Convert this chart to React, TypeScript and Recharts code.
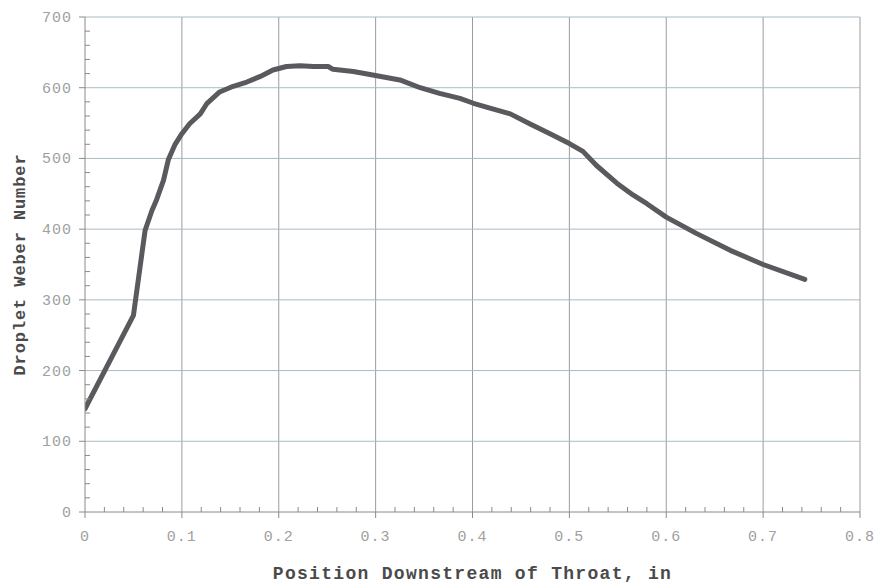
import React from 'react';
import { LineChart, Line, XAxis, YAxis, ReferenceLine } from 'recharts';

const positions = [0, 0.05, 0.062, 0.069, 0.074, 0.081, 0.086, 0.093, 0.1, 0.108, 0.119, 0.126, 0.139, 0.153, 0.167, 0.181, 0.194, 0.208, 0.222, 0.236, 0.251, 0.256, 0.277, 0.297, 0.325, 0.346, 0.366, 0.387, 0.401, 0.418, 0.439, 0.459, 0.48, 0.5, 0.514, 0.528, 0.549, 0.566, 0.58, 0.6, 0.631, 0.666, 0.7, 0.743];
const weber = [146, 278, 398, 426, 442, 469, 498, 520, 535, 549, 563, 578, 594, 602, 608, 616, 625, 630, 631, 630, 630, 626, 623, 618, 611, 600, 592, 585, 578, 571, 563, 549, 535, 521, 510, 490, 465, 448, 436, 417, 394, 370, 350, 329];

const xMajor = [0, 0.1, 0.2, 0.3, 0.4, 0.5, 0.6, 0.7, 0.8];
const xAllTicks = Array.from({ length: 41 }, (_, i) => Math.round(i * 2) / 100);
const yMajor = [0, 100, 200, 300, 400, 500, 600, 700];
const yAllTicks = Array.from({ length: 36 }, (_, i) => i * 20);

const data = positions.map((p, i) => ({ x: p, y: weber[i] }));

const MONO = '"Liberation Mono", "DejaVu Sans Mono", monospace';
const AXIS = '#8a8a8a';
const LABEL = '#a0a0a0';

const isMajor = (v: number, step: number) => Math.abs(v / step - Math.round(v / step)) < 1e-6;

const XTick = (props: any) => {
  const { x, y, payload } = props;
  const v = payload.value;
  if (isMajor(v, 0.1)) {
    return (
      <g>
        <line x1={x} x2={x} y1={y} y2={y + 6} stroke={AXIS} strokeWidth={1} />
        <text x={x} y={y + 29} textAnchor="middle" fontFamily={MONO} fontSize={15} fill={LABEL} letterSpacing={1}>
          {v === 0 ? '0' : String(v)}
        </text>
      </g>
    );
  }
  return <line x1={x} x2={x} y1={y} y2={y - 5} stroke={AXIS} strokeWidth={1} />;
};

const YTick = (props: any) => {
  const { x, y, payload } = props;
  const v = payload.value;
  if (isMajor(v, 100)) {
    return (
      <g>
        <line x1={x} x2={x - 6} y1={y} y2={y} stroke={AXIS} strokeWidth={1} />
        <text x={x - 13} y={y + 5} textAnchor="end" fontFamily={MONO} fontSize={15} fill={LABEL} letterSpacing={1}>
          {String(v)}
        </text>
      </g>
    );
  }
  return <line x1={x} x2={x + 5} y1={y} y2={y} stroke={AXIS} strokeWidth={1} />;
};

export default function App() {
  return (
    <div style={{ position: 'absolute', left: 0, top: 0, width: 880, height: 584, background: '#fff' }}>
      <LineChart width={880} height={584} data={data} margin={{ top: 17, right: 20, bottom: 0, left: 0 }}>
        {xMajor.slice(1).map((v) => (
          <ReferenceLine key={'vx' + v} x={v} stroke="#9c9ca0" strokeWidth={1} ifOverflow="visible" />
        ))}
        {yMajor.slice(1).map((v) => (
          <ReferenceLine key={'hy' + v} y={v} stroke="#a9bac4" strokeWidth={1} ifOverflow="visible" />
        ))}
        <XAxis
          dataKey="x"
          type="number"
          domain={[0, 0.8]}
          ticks={xAllTicks}
          interval={0}
          tickSize={0}
          tickMargin={0}
          tickLine={false}
          tick={<XTick />}
          stroke={AXIS}
          height={72}
          allowDataOverflow
          label={{ value: 'Position Downstream of Throat, in', position: 'insideBottom', offset: 5, style: { fontFamily: MONO, fontSize: 18, fontWeight: 'bold', fill: '#4a4a4a', letterSpacing: 1.3 } }}
        />
        <YAxis
          type="number"
          domain={[0, 700]}
          ticks={yAllTicks}
          interval={0}
          tickSize={0}
          tickMargin={0}
          tickLine={false}
          tick={<YTick />}
          stroke={AXIS}
          width={85}
          allowDataOverflow
          label={{ value: 'Droplet Weber Number', angle: -90, position: 'insideLeft', offset: 19, style: { fontFamily: MONO, fontSize: 17, fontWeight: 'bold', fill: '#4a4a4a', letterSpacing: 0.9, textAnchor: 'middle' } }}
        />
        <Line
          type="linear"
          dataKey="y"
          stroke="#5a5a5e"
          strokeWidth={5}
          strokeLinejoin="round"
          strokeLinecap="round"
          dot={false}
          isAnimationActive={false}
        />
      </LineChart>
    </div>
  );
}
